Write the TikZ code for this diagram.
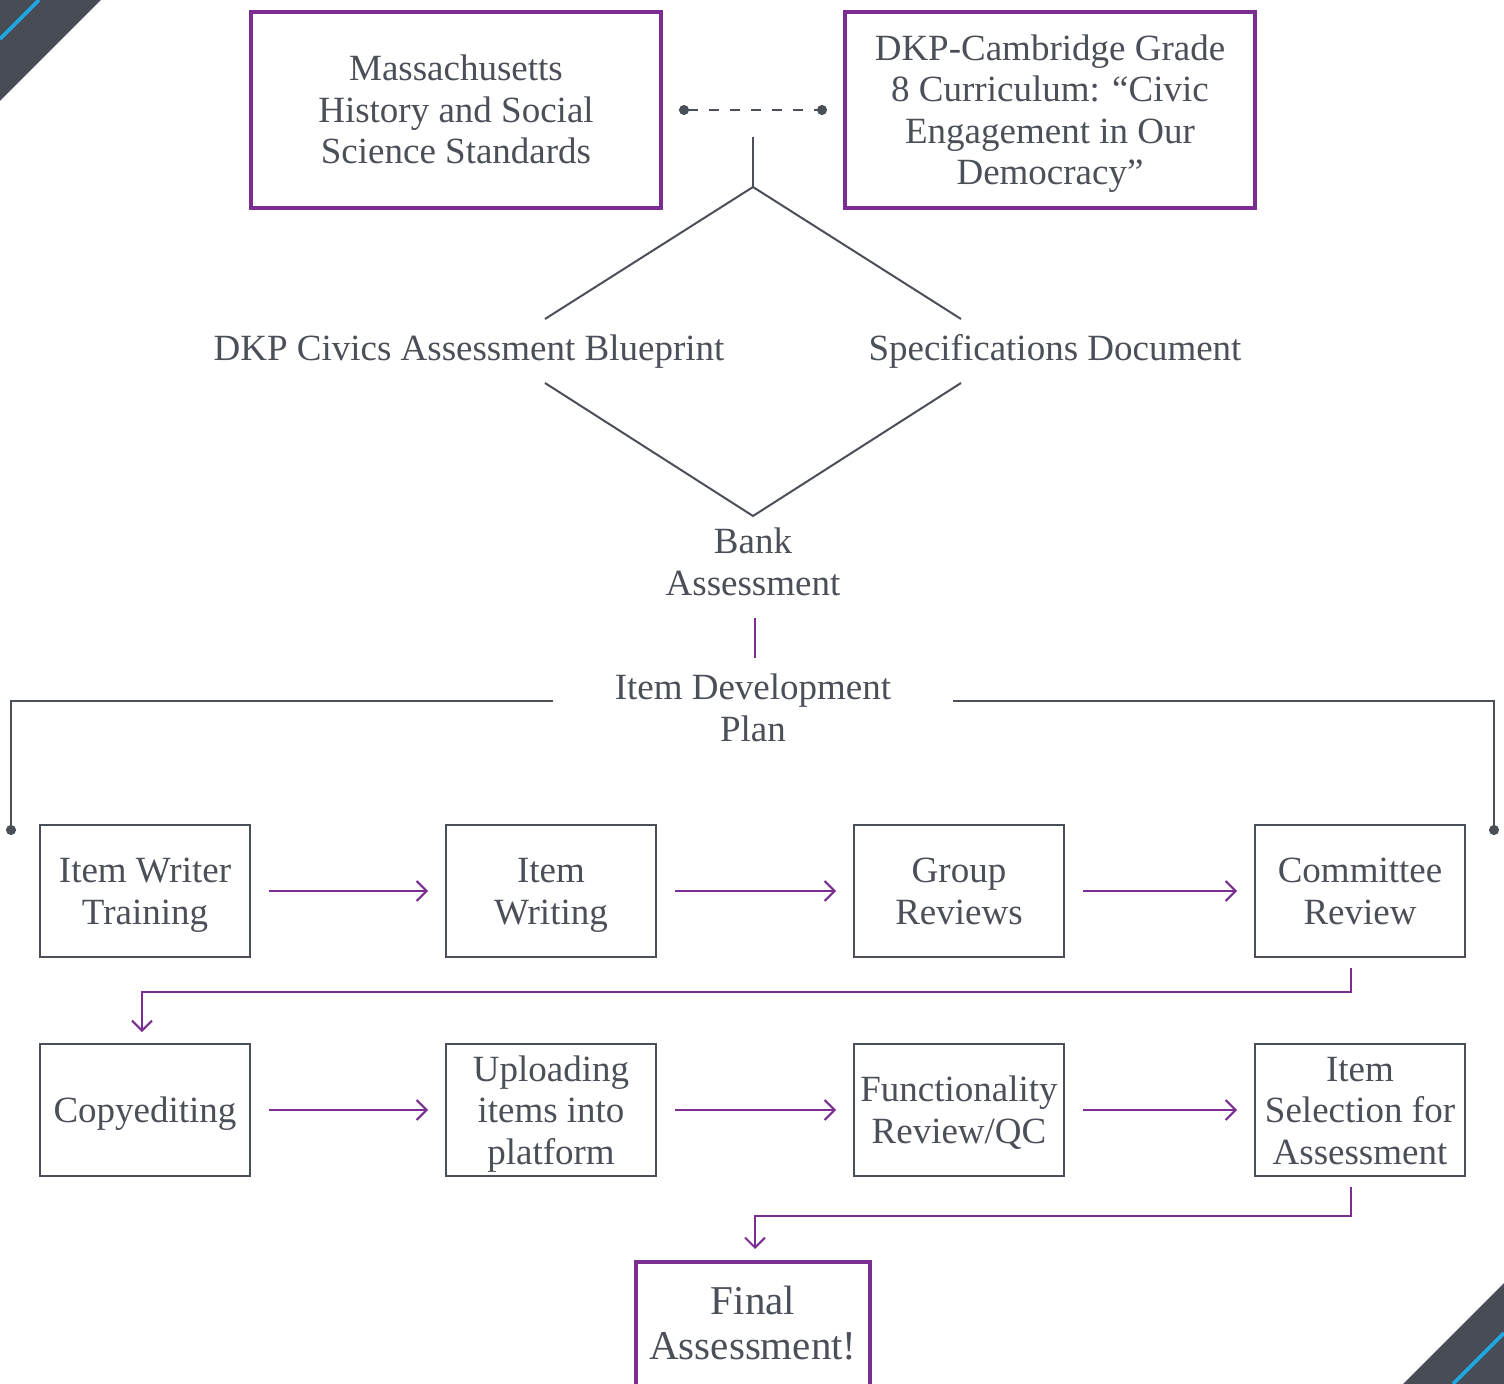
\documentclass[tikz,border=0pt]{standalone}
\usepackage{fontspec}
\setmainfont{Liberation Serif}
\usepackage{tikz}
\usetikzlibrary{arrows.meta}
\definecolor{slate}{HTML}{474C55}
\definecolor{inkgray}{HTML}{4B4F58}
\definecolor{plum}{HTML}{7B2D92}
\definecolor{sky}{HTML}{1EA7E3}
\newcommand{\topline}{\rule{0pt}{17pt}}
\newcommand{\botline}{\rule[-4.5pt]{0pt}{4.5pt}}
\tikzstyle{source} = [rectangle, minimum width=205pt, minimum height=98pt, text width=205pt, inner sep=0pt, draw=plum, line width=2pt, text=inkgray, align=flush center, font=\fontsize{18.5}{20.75}\selectfont, execute at begin node=\topline, execute at end node=\botline]
\tikzstyle{block} = [rectangle, minimum width=105pt, minimum height=66pt, text width=105pt, inner sep=0pt, draw=inkgray, line width=1pt, text=inkgray, align=flush center, font=\fontsize{18.5}{20.75}\selectfont, execute at begin node=\topline, execute at end node=\botline]
\tikzstyle{label} = [text=inkgray, text width=270pt, align=flush center, inner sep=0pt, font=\fontsize{18.5}{20.75}\selectfont, execute at begin node=\topline, execute at end node=\botline]
\tikzstyle{link} = [inkgray, line width=1pt]
\tikzstyle{arrow} = [plum, line width=1pt, -{Straight Barb[length=5pt,width=10pt]}]

\begin{document}
\begin{tikzpicture} [x=0.5pt, y=-0.5pt, node distance=203pt]
\useasboundingbox (0,0) rectangle (1504,1384);
\clip (0,0) rectangle (1504,1384);

% corner marks
\fill[slate] (0,0) -- (101,0) -- (0,101) -- cycle;
\draw[sky, line width=1.8pt] (39,0) -- (0,39);
\fill[slate] (1504,1283) -- (1504,1384) -- (1403,1384) -- cycle;
\draw[sky, line width=1.8pt] (1504,1333) -- (1453,1384);

% sources
\node (mass) [source] at (456,110) {Massachusetts\\History and Social\\Science Standards};
\node (dkp) [source] at (1050,110) {DKP-Cambridge Grade\\8 Curriculum: “Civic\\Engagement in Our\\Democracy”};
\draw [link, dash pattern=on 5pt off 5.5pt, {Circle[length=5pt]}-{Circle[length=5pt]}, shorten <=8pt, shorten >=8pt] (mass) -- (dkp);

\node (bp) [label] at (469,348.5) {DKP Civics Assessment Blueprint};
\node (spec) [label] at (1055,348.5) {Specifications Document};
\node (bank) [label] at (753,562) {Bank\\Assessment};
\node (plan) [label] at (753,708) {Item Development\\Plan};

\coordinate (stem) at (753,137);
\coordinate (fork) at (753,187);
\coordinate (base) at (753,516);
\coordinate (bpN) at (545,319);
\coordinate (bpS) at (545,383);
\coordinate (specN) at (961,319);
\coordinate (specS) at (961,383);
\draw [link] (stem) -- (fork);
\draw [link] (bpN) -- (fork) -- (specN);
\draw [link] (bpS) -- (base) -- (specS);
\draw [plum, line width=1pt] (755,618) -- (755,658);

\coordinate (planL) at (553,701);
\coordinate (planR) at (953,701);
\coordinate (endL) at (11,835);
\coordinate (endR) at (1494,835);
\draw [link, -{Circle[length=5pt]}] (planL) -| (endL);
\draw [link, -{Circle[length=5pt]}] (planR) -| (endR);

% item development steps
\node (train) [block] at (145,891) {Item Writer\\Training};
\node (write) [block, right of=train] {Item\\Writing};
\node (group) [block, right of=write, xshift=1pt] {Group\\Reviews};
\node (commit) [block, right of=group, xshift=-2.5pt] {Committee\\Review};
\node (copy) [block] at (145,1110) {Copyediting};
\node (upload) [block, right of=copy] {Uploading\\items into\\platform};
\node (func) [block, right of=upload, xshift=1pt] {Functionality\\Review/QC};
\node (select) [block, right of=func, xshift=-2.5pt] {Item\\Selection for\\Assessment};
\node (final) [source, minimum width=117pt, text width=117pt, minimum height=62pt, font=\fontsize{20.5}{22.5}\selectfont] at (753,1324) {Final\\Assessment!};

\draw [arrow, shorten <=9pt, shorten >=8.5pt] (train) -- (write);
\draw [arrow, shorten <=9pt, shorten >=8.5pt] (write) -- (group);
\draw [arrow, shorten <=9pt, shorten >=8.5pt] (group) -- (commit);
\draw [arrow, shorten <=9pt, shorten >=8.5pt] (copy) -- (upload);
\draw [arrow, shorten <=9pt, shorten >=8.5pt] (upload) -- (func);
\draw [arrow, shorten <=9pt, shorten >=8.5pt] (func) -- (select);
\draw [arrow, shorten <=5pt, shorten >=5.5pt] ([xshift=-4.5pt]commit.south) -- ++(0,34) -| ([xshift=-1.5pt]copy.north);
\draw [arrow, shorten <=5pt, shorten >=5.5pt] ([xshift=-4.5pt]select.south) -- ++(0,39) -| ([xshift=1pt]final.north);
\end{tikzpicture}
\end{document}
